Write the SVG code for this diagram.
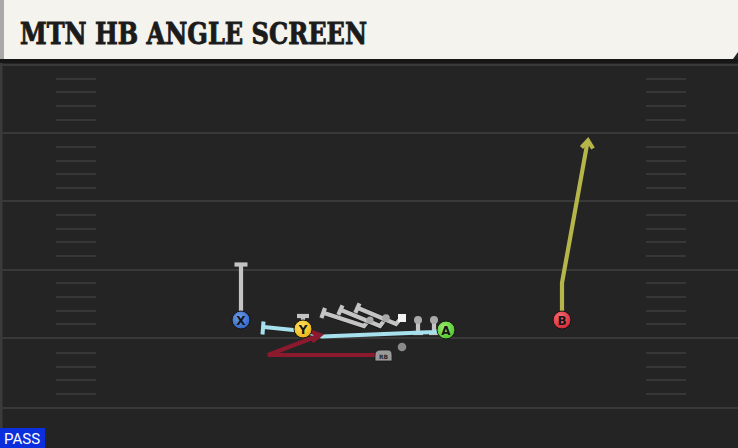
<svg xmlns="http://www.w3.org/2000/svg" width="738" height="448" viewBox="0 0 738 448">
<style>
.yard{stroke:#393939;stroke-width:2}
.hash{stroke:#373737;stroke-width:2}
.lbl{font-family:"DejaVu Sans","Liberation Sans",sans-serif;font-weight:bold;font-size:12px;fill:#151515;text-anchor:middle}
.pc{stroke:#151515;stroke-width:1}
.gray{stroke:#c4c4c4;stroke-width:4.2;fill:none;stroke-linecap:butt}
.blue{stroke:#a7e1ed;stroke-width:4;fill:none}
.red{stroke:#8c1a2f;stroke-width:4.2;fill:none}
.olive{stroke:#b6b54a;stroke-width:4.2;fill:none}
.shadow{stroke:#141414;stroke-width:6;fill:none;opacity:.6}
</style>
<defs>
<radialGradient id="gX" cx="0.4" cy="0.35" r="0.7"><stop offset="0" stop-color="#6a9bea"/><stop offset="1" stop-color="#2f62c2"/></radialGradient>
<radialGradient id="gY" cx="0.4" cy="0.35" r="0.7"><stop offset="0" stop-color="#ffe160"/><stop offset="1" stop-color="#eab20c"/></radialGradient>
<radialGradient id="gA" cx="0.4" cy="0.35" r="0.7"><stop offset="0" stop-color="#98ee6c"/><stop offset="1" stop-color="#4fc02a"/></radialGradient>
<radialGradient id="gB" cx="0.4" cy="0.35" r="0.7"><stop offset="0" stop-color="#f4707a"/><stop offset="1" stop-color="#d2232f"/></radialGradient>
</defs>
<rect width="738" height="448" fill="#242424"/>
<rect x="0" y="59" width="2.5" height="389" fill="#3b3b3b"/>
<g id="field">
<line class="yard" x1="0" y1="65" x2="738" y2="65"/>
<line class="yard" x1="0" y1="133" x2="738" y2="133"/>
<line class="yard" x1="0" y1="201" x2="738" y2="201"/>
<line class="yard" x1="0" y1="270" x2="738" y2="270"/>
<line class="yard" x1="0" y1="338" x2="738" y2="338"/>
<line class="yard" x1="0" y1="408" x2="738" y2="408"/>
<g id="hash-left">
<line class="hash" x1="56" y1="79" x2="96" y2="79"/><line class="hash" x1="56" y1="92" x2="96" y2="92"/><line class="hash" x1="56" y1="106" x2="96" y2="106"/><line class="hash" x1="56" y1="120" x2="96" y2="120"/>
<line class="hash" x1="56" y1="147" x2="96" y2="147"/><line class="hash" x1="56" y1="161" x2="96" y2="161"/><line class="hash" x1="56" y1="174" x2="96" y2="174"/><line class="hash" x1="56" y1="188" x2="96" y2="188"/>
<line class="hash" x1="56" y1="215" x2="96" y2="215"/><line class="hash" x1="56" y1="229" x2="96" y2="229"/><line class="hash" x1="56" y1="242" x2="96" y2="242"/><line class="hash" x1="56" y1="256" x2="96" y2="256"/>
<line class="hash" x1="56" y1="283" x2="96" y2="283"/><line class="hash" x1="56" y1="297" x2="96" y2="297"/><line class="hash" x1="56" y1="311" x2="96" y2="311"/><line class="hash" x1="56" y1="324" x2="96" y2="324"/>
<line class="hash" x1="56" y1="353" x2="96" y2="353"/><line class="hash" x1="56" y1="367" x2="96" y2="367"/><line class="hash" x1="56" y1="380" x2="96" y2="380"/><line class="hash" x1="56" y1="394" x2="96" y2="394"/>
</g>
<g id="hash-right">
<line class="hash" x1="646" y1="79" x2="686" y2="79"/><line class="hash" x1="646" y1="92" x2="686" y2="92"/><line class="hash" x1="646" y1="106" x2="686" y2="106"/><line class="hash" x1="646" y1="120" x2="686" y2="120"/>
<line class="hash" x1="646" y1="147" x2="686" y2="147"/><line class="hash" x1="646" y1="161" x2="686" y2="161"/><line class="hash" x1="646" y1="174" x2="686" y2="174"/><line class="hash" x1="646" y1="188" x2="686" y2="188"/>
<line class="hash" x1="646" y1="215" x2="686" y2="215"/><line class="hash" x1="646" y1="229" x2="686" y2="229"/><line class="hash" x1="646" y1="242" x2="686" y2="242"/><line class="hash" x1="646" y1="256" x2="686" y2="256"/>
<line class="hash" x1="646" y1="283" x2="686" y2="283"/><line class="hash" x1="646" y1="297" x2="686" y2="297"/><line class="hash" x1="646" y1="311" x2="686" y2="311"/><line class="hash" x1="646" y1="324" x2="686" y2="324"/>
<line class="hash" x1="646" y1="353" x2="686" y2="353"/><line class="hash" x1="646" y1="367" x2="686" y2="367"/><line class="hash" x1="646" y1="380" x2="686" y2="380"/><line class="hash" x1="646" y1="394" x2="686" y2="394"/>
</g>
</g>
<g id="title">
<rect x="0" y="59" width="738" height="4" fill="#161616"/>
<polygon points="0,0 738,0 738,52 733,59 0,59" fill="#f5f3ed"/>
<rect x="0" y="0" width="4" height="59" fill="#a9a9a9"/>
<text x="20" y="43.5" font-family="'DejaVu Serif','Liberation Serif',serif" font-weight="bold" font-size="29" fill="#1b1b1b" stroke="#1b1b1b" stroke-width="0.9" textLength="347" lengthAdjust="spacingAndGlyphs">MTN HB ANGLE SCREEN</text>
</g>
<g id="connectors">
<g id="route-X"><path class="gray" d="M241,312 V265"/><path class="gray" d="M234.5,264.5 H247.5"/></g>
<g id="route-Y"><path class="gray" d="M303,321 V317"/><path class="gray" d="M297,316 H309"/></g>
<g id="route-OL">
<path class="shadow" d="M370,319 L364,326 L324,313"/>
<path class="gray" d="M370,319 L364,326 L324,313"/><path class="gray" d="M321.4,318 L325,308"/>
<path class="shadow" d="M386,318 L380,326 L341,310"/>
<path class="gray" d="M386,318 L380,326 L341,310"/><path class="gray" d="M338.3,314.8 L342.5,305.4"/>
<path class="shadow" d="M402,317 L396,324 L358,308"/>
<path class="gray" d="M402,317 L396,324 L358,308"/><path class="gray" d="M355.3,312.8 L359.5,303.4"/>
<path class="gray" d="M418,320 V332"/><path class="gray" d="M413,333 H423"/>
<path class="gray" d="M434,320 V332"/><path class="gray" d="M429,333 H439"/>
</g>
<g id="route-A">
<path class="blue" d="M438,331 L434,332 L322,336.5 L303,331 L264,327"/>
<path class="blue" d="M263.5,321.5 L262.5,334.5"/>
</g>
<g id="route-RB">
<path class="red" d="M376,355 H268 L319,335.5"/>
<path class="red" d="M310,331.5 L320,335 L312,341.5"/>
</g>
<g id="route-B">
<path class="olive" d="M562,312 V283 L587.5,142"/>
<path class="olive" d="M581.5,147.5 L588,140.5 L593,148.5"/>
</g>
</g>
<g id="node-OL1"><circle cx="370" cy="320" r="3.5" fill="#a9a9a9"/></g>
<g id="node-OL2"><circle cx="386" cy="318" r="3.8" fill="#a9a9a9"/></g>
<g id="node-C"><rect x="398" y="314" width="8" height="8" fill="#f2f2f2"/></g>
<g id="node-OL4"><circle cx="418" cy="320" r="4" fill="#a9a9a9"/></g>
<g id="node-OL5"><circle cx="434" cy="320" r="4" fill="#a9a9a9"/></g>
<g id="node-QB"><circle cx="402" cy="347" r="4.3" fill="#8a8a8a"/></g>
<g id="node-X"><circle class="pc" cx="241" cy="320" r="9" fill="url(#gX)"/><text class="lbl" x="241" y="324.5">X</text></g>
<g id="node-Y"><circle class="pc" cx="303" cy="329" r="9" fill="url(#gY)"/><text class="lbl" x="303" y="333.5">Y</text></g>
<g id="node-A"><circle class="pc" cx="446" cy="330" r="9" fill="url(#gA)"/><text class="lbl" x="446" y="334.5">A</text></g>
<g id="node-B"><circle class="pc" cx="562" cy="320" r="9" fill="url(#gB)"/><text class="lbl" x="562" y="324.5">B</text></g>
<g id="node-RB"><path d="M375,361 V355 Q375,350 381,350 H388 Q392,350 392,355 V361 Z" fill="#9a9a9a" stroke="#1a1a1a" stroke-width="0.8"/><text x="383.5" y="358.5" font-family="'DejaVu Sans',sans-serif" font-size="6" font-weight="bold" fill="#2a2a2a" text-anchor="middle">RB</text></g>
<g id="tag-pass"><rect x="0" y="428" width="45" height="20" fill="#0b2fdc"/><text x="4" y="444" font-family="Roboto,'Liberation Sans',sans-serif" font-size="15" fill="#ffffff">PASS</text></g>
</svg>
